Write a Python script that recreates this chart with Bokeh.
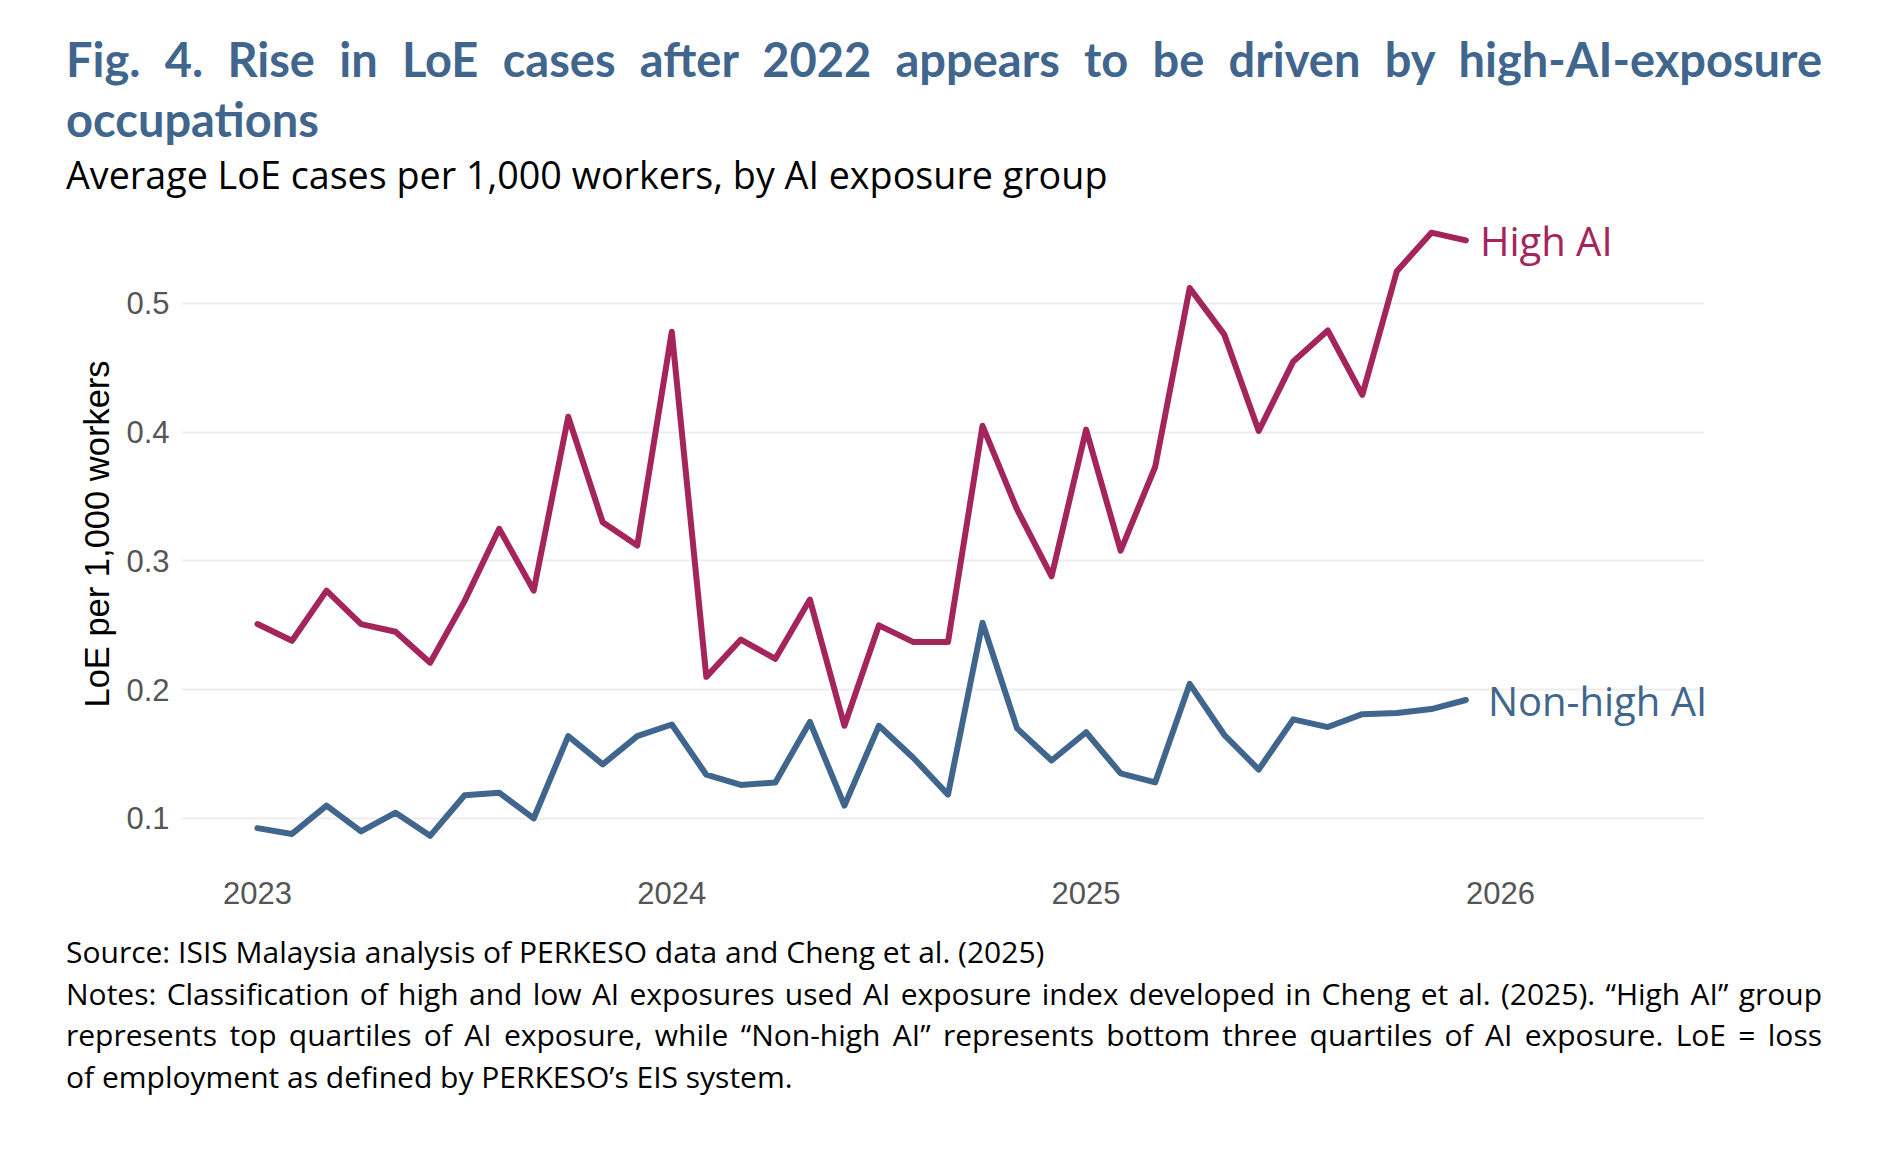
from bokeh.plotting import figure
from bokeh.models import Div, FixedTicker, Range1d, ColumnDataSource
from bokeh.layouts import column
from bokeh.core.properties import value
from bokeh.embed import file_html
from bokeh.resources import INLINE

# ---- data ----
years = [2023] * 12 + [2024] * 12 + [2025] * 12
months = list(range(1, 13)) * 3
high_ai = [0.251, 0.238, 0.277, 0.251, 0.245, 0.221, 0.269, 0.325, 0.277, 0.412, 0.330, 0.312,
           0.478, 0.210, 0.239, 0.224, 0.270, 0.172, 0.250, 0.237, 0.237, 0.405, 0.340, 0.288,
           0.402, 0.308, 0.373, 0.512, 0.476, 0.401, 0.455, 0.479, 0.429, 0.525, 0.555, 0.549]
non_high_ai = [0.0925, 0.088, 0.110, 0.090, 0.1045, 0.0865, 0.118, 0.120, 0.100, 0.164, 0.142, 0.164,
               0.173, 0.134, 0.126, 0.128, 0.175, 0.110, 0.172, 0.147, 0.1185, 0.252, 0.170, 0.145,
               0.167, 0.135, 0.128, 0.2045, 0.165, 0.138, 0.177, 0.171, 0.181, 0.182, 0.185, 0.192]
series_names = ["High AI", "Non-high AI"]
x_ticks = [2023, 2024, 2025, 2026]
y_ticks = [0.1, 0.2, 0.3, 0.4, 0.5]
y_tick_labels = ["0.1", "0.2", "0.3", "0.4", "0.5"]

title_line1 = "Fig. 4. Rise in LoE cases after 2022 appears to be driven by high-AI-exposure"
title_line2 = "occupations"
subtitle = "Average LoE cases per 1,000 workers, by AI exposure group"
y_label = "LoE per 1,000 workers"
note_lines = [
    "Source: ISIS Malaysia analysis of PERKESO data and Cheng et al. (2025)",
    "Notes: Classification of high and low AI exposures used AI exposure index developed in Cheng et al. (2025). \u201cHigh AI\u201d group",
    "represents top quartiles of AI exposure, while \u201cNon-high AI\u201d represents bottom three quartiles of AI exposure. LoE = loss",
    "of employment as defined by PERKESO\u2019s EIS system.",
]

RED = "#A3255B"
BLUE = "#41668D"

xs = [y + (m - 1) / 12 for y, m in zip(years, months)]
src = ColumnDataSource(dict(x=xs, high=high_ai, non=non_high_ai))

# ---- header ----
header_html = f"""
<div style="margin-left:66px;width:1756px;">
  <div style="padding-top:29px;font-family:Lato;font-weight:700;color:{BLUE};font-size:47px;line-height:60px;white-space:nowrap;text-align:justify;text-align-last:justify;">{title_line1}</div>
  <div style="font-family:Lato;font-weight:700;color:{BLUE};font-size:47px;line-height:60px;white-space:nowrap;">{title_line2}</div>
  <div style="margin-top:2px;font-family:'Open Sans';color:#000;font-size:37.7px;line-height:48px;white-space:nowrap;">{subtitle}</div>
</div>
"""
header = Div(text=header_html, width=1872, height=199, margin=(0, 0, 0, 0))

# ---- figure ----
p = figure(width=1800, height=732, output_backend="svg", toolbar_location=None,
           min_border_left=181, min_border_right=96, min_border_top=6, min_border_bottom=69,
           x_range=Range1d(2022.8166, 2026.4926), y_range=Range1d(0.0658, 0.5761),
           margin=(0, 0, 0, 0))
p.outline_line_color = None
p.background_fill_color = "white"
p.border_fill_color = "white"
p.xgrid.grid_line_color = None
p.ygrid.grid_line_color = "#EDEDED"
p.ygrid.grid_line_width = 2

p.line("x", "high", source=src, line_color=RED, line_width=6, line_join="round", line_cap="round")
p.line("x", "non", source=src, line_color=BLUE, line_width=6, line_join="round", line_cap="round")

p.text(x=[xs[-1]], y=[high_ai[-1]], text=[series_names[0]], text_color=RED,
       text_font=value("Open Sans"), text_font_size="40px", text_baseline="middle",
       text_align="left", x_offset=14)
p.text(x=[xs[-1]], y=[non_high_ai[-1]], text=[series_names[1]], text_color=BLUE,
       text_font=value("Open Sans"), text_font_size="40px", text_baseline="middle",
       text_align="left", x_offset=22)

for ax in (p.xaxis[0], p.yaxis[0]):
    ax.axis_line_color = None
    ax.major_tick_line_color = None
    ax.minor_tick_line_color = None
    ax.major_label_text_font = "Liberation Sans"
    ax.major_label_text_font_size = "31px"
    ax.major_label_text_color = "#555555"

p.xaxis.ticker = FixedTicker(ticks=x_ticks)
p.xaxis.major_label_standoff = 13
p.yaxis.ticker = FixedTicker(ticks=y_ticks)
p.yaxis.major_label_overrides = {t: l for t, l in zip(y_ticks, y_tick_labels)}
p.yaxis.major_label_standoff = 6
p.yaxis.axis_label = y_label
p.yaxis.axis_label_text_font = "Liberation Sans"
p.yaxis.axis_label_text_font_size = "34.5px"
p.yaxis.axis_label_text_font_style = "normal"
p.yaxis.axis_label_text_color = "#000000"
p.yaxis.axis_label_standoff = 7

# ---- notes ----
line_styles = ["", "text-align:justify;text-align-last:justify;",
               "text-align:justify;text-align-last:justify;", ""]
notes_inner = "".join(
    f'<div style="white-space:nowrap;{s}">{t}</div>' for t, s in zip(note_lines, line_styles))
notes_html = f"""
<div style="margin-left:66px;width:1756px;font-family:'Open Sans';color:#000;font-size:30px;line-height:41.5px;">
{notes_inner}
</div>
"""
notes = Div(text=notes_html, width=1872, height=200, margin=(0, 0, 0, 0))

layout = column(header, p, notes, margin=(0, 0, 0, 0))
open("out.html", "w").write(file_html(layout, INLINE))
